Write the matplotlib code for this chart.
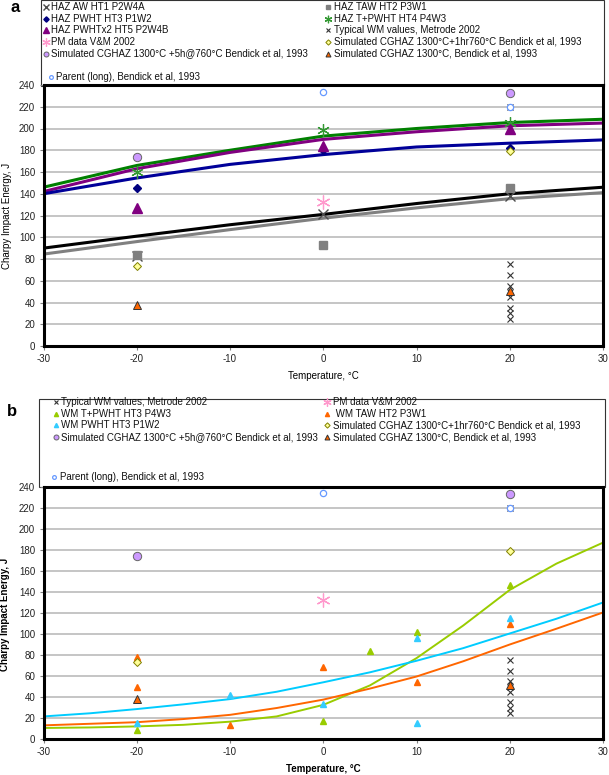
import matplotlib.pyplot as plt
from matplotlib.lines import Line2D
from matplotlib.patches import Rectangle

plt.rcParams['font.family'] = ['Liberation Sans', 'DejaVu Sans']
plt.rcParams['axes.unicode_minus'] = False

W, H = 609, 775

# ---------------- panel a data (temperature degC, Charpy energy J) ----------------
aw_t = [-20, 0, 20]
aw_e = [83, 121, 138]
taw_t = [-20, 0, 20]
taw_e = [84, 93, 145]
pwht_t = [-20, 0, 20]
pwht_e = [145, 180, 182]
tpwht_t = [-20, 0, 20]
tpwht_e = [160, 199, 205]
pwht2_t = [-20, 0, 20]
pwht2_e = [127, 184, 200]

# fitted trend lines, panel a
fit_t_a = [-30, -20, -10, 0, 10, 20, 30]
fit_tpwht_a = [146, 166, 180, 193, 200, 205.5, 208.5]
fit_pwht2_a = [142, 163, 178, 190, 197, 202.5, 205]
fit_pwht_a = [140, 154.5, 167, 176, 183, 186.5, 189.5]
fit_aw_a = [90, 101, 111.5, 121, 131, 140, 146]
fit_taw_a = [84.5, 96, 107, 117.5, 127, 135.5, 141]

# ---------------- panel b data ----------------
wm_tpwht_t = [-20, 0, 5, 10, 20]
wm_tpwht_e = [9, 17, 84, 101.5, 147]
wm_taw_t = [-20, -20, -10, 0, 10, 20]
wm_taw_e = [78.5, 50, 13, 69, 54, 110]
wm_pwht_t = [-20, -10, 0, 10, 10, 20]
wm_pwht_e = [15, 41.5, 33, 96.5, 15, 115.5]

fit_t_b = [-30, -25, -20, -15, -10, -5, 0, 5, 10, 15, 20, 25, 30]
fit_tpwht_b = [10.5, 11, 12, 13.5, 16.5, 21.5, 32.5, 51, 77, 108, 142, 167, 187]
fit_pwht_b = [21.5, 24.5, 28.5, 33, 38, 45, 54, 63.5, 74.5, 86.5, 100.5, 114.5, 130]
fit_taw_b = [13, 14.5, 16, 19, 23, 29.5, 37.5, 48, 59.5, 74, 90, 105, 120.5]

# ---------------- shared literature data ----------------
typ_t = [20, 20, 20, 20, 20, 20, 20, 20, 20]
typ_e = [220, 75, 65, 55, 50, 45, 35, 30, 25]
pm_t = [0]
pm_e = [132]
sim1hr_t = [-20, 20]
sim1hr_e = [73.5, 179]
sim5h_t = [-20, 20]
sim5h_e = [174, 233]
sim1300_t = [-20, 20]
sim1300_e = [38, 51]
parent_t = [0, 20]
parent_e = [234, 220]

# marker styles
ST = {
    'aw': dict(marker='x', ms=6.5, color='#4d4d4d', mew=1.0),
    'taw': dict(marker='s', ms=6, color='#808080', mec='#808080'),
    'pwht': dict(marker='D', ms=4.5, color='#000080', mec='#000080'),
    'tpwht': dict(marker=(6, 2, 0), ms=9, color='#339933', mew=0.9),
    'pwht2': dict(marker='^', ms=7, color='#800080', mec='#800080'),
    'typ': dict(marker='x', ms=5, color='#333333', mew=0.8),
    'pm': dict(marker=(6, 2, 0), ms=10, color='#ff99cc', mew=0.9),
    'sim1hr': dict(marker='D', ms=4.5, mfc='#ffff99', mec='#808000', mew=0.7),
    'sim5h': dict(marker='o', ms=6, mfc='#cc99ff', mec='#666666', mew=0.7),
    'sim1300': dict(marker='^', ms=6, mfc='#ff6600', mec='#333333', mew=0.7),
    'parent': dict(marker='o', ms=4.5, mfc='white', mec='#6699ff', mew=0.9),
    'wm_tpwht': dict(marker='^', ms=5, color='#99cc00', mec='#99cc00'),
    'wm_taw': dict(marker='^', ms=5, color='#ff6600', mec='#ff6600'),
    'wm_pwht': dict(marker='^', ms=5, color='#33ccff', mec='#33ccff'),
}


def px(x, y):
    return x / W, 1 - y / H


def style_axes(ax, bold):
    ax.set_xlim(-30, 30)
    ax.set_ylim(0, 240)
    ax.set_xticks(range(-30, 31, 10))
    ax.set_yticks(range(0, 241, 20))
    ax.grid(axis='y', color='#c0c0c0', lw=1.3)
    ax.set_axisbelow(True)
    for s in ax.spines.values():
        s.set_linewidth(2.2)
    ax.tick_params(direction='out', length=3, width=0.8, color='#808080',
                   labelsize=7, labelcolor='#222222', pad=3)
    w = 'bold' if bold else 'normal'
    ax.set_xlabel('Temperature, °C', fontsize=7, fontweight=w, labelpad=5)


def pts(ax, t, e, key):
    ax.plot(t, e, linestyle='none', zorder=3, **ST[key])


def key(fig, mx, tx, y, label, k):
    st = dict(ST[k])
    st['ms'] = st['ms'] * 0.6
    fig.add_artist(Line2D([mx / W], [1 - y / H], transform=fig.transFigure,
                          linestyle='none', **st))
    fig.text(tx / W, 1 - y / H, label, fontsize=7, va='center', ha='left', color='#111111')


fig = plt.figure(figsize=(W / 100, H / 100), dpi=100)

# ================= panel a =================
ax1 = fig.add_axes([43.5 / W, 1 - 346 / H, 559.5 / W, 261 / H])
style_axes(ax1, False)
ax1.plot(fit_t_a, fit_tpwht_a, color='#008000', lw=2.2, zorder=2)
ax1.plot(fit_t_a, fit_pwht2_a, color='#800080', lw=2.2, zorder=2)
ax1.plot(fit_t_a, fit_pwht_a, color='#000099', lw=2.2, zorder=2)
ax1.plot(fit_t_a, fit_aw_a, color='black', lw=2.2, zorder=2)
ax1.plot(fit_t_a, fit_taw_a, color='#808080', lw=2.2, zorder=2)
pts(ax1, aw_t, aw_e, 'aw')
pts(ax1, taw_t, taw_e, 'taw')
pts(ax1, pwht_t, pwht_e, 'pwht')
pts(ax1, tpwht_t, tpwht_e, 'tpwht')
pts(ax1, pwht2_t, pwht2_e, 'pwht2')
pts(ax1, typ_t, typ_e, 'typ')
pts(ax1, pm_t, pm_e, 'pm')
pts(ax1, sim1hr_t, sim1hr_e, 'sim1hr')
pts(ax1, sim5h_t, sim5h_e, 'sim5h')
pts(ax1, sim1300_t, sim1300_e, 'sim1300')
pts(ax1, parent_t, parent_e, 'parent')
fig.text(0.011, 1 - 216 / H, 'Charpy Impact Energy, J', rotation=90, fontsize=7,
         va='center', ha='center')

fig.add_artist(Rectangle(px(41, 86), 563 / W, 85.5 / H, transform=fig.transFigure,
                         fill=False, ec='#333333', lw=0.8, zorder=0))
rows = [6.7, 18.5, 30.2, 42, 53.5]
col1 = [('HAZ AW HT1 P2W4A', 'aw'), ('HAZ PWHT HT3 P1W2', 'pwht'),
        ('HAZ PWHTx2 HT5 P2W4B', 'pwht2'), ('PM data V&M 2002', 'pm'),
        ('Simulated CGHAZ 1300°C +5h@760°C Bendick et al, 1993', 'sim5h')]
col2 = [('HAZ TAW HT2 P3W1', 'taw'), ('HAZ T+PWHT HT4 P4W3', 'tpwht'),
        ('Typical WM values, Metrode 2002', 'typ'),
        ('Simulated CGHAZ 1300°C+1hr760°C Bendick et al, 1993', 'sim1hr'),
        ('Simulated CGHAZ 1300°C, Bendick et al, 1993', 'sim1300')]
for y, (lab, k) in zip(rows, col1):
    key(fig, 45.5, 51.5, y, lab, k)
for y, (lab, k) in zip(rows, col2):
    key(fig, 328, 334, y, lab, k)
key(fig, 50.5, 56, 77, 'Parent (long), Bendick et al, 1993', 'parent')
fig.text(15 / W, 1 - 7 / H, 'a', fontsize=12, fontweight='bold', ha='center', va='center')

# ================= panel b =================
ax2 = fig.add_axes([43.5 / W, 1 - 739 / H, 559.5 / W, 252 / H])
style_axes(ax2, True)
ax2.plot(fit_t_b, fit_tpwht_b, color='#99cc00', lw=1.4, zorder=2)
ax2.plot(fit_t_b, fit_pwht_b, color='#00ccff', lw=1.4, zorder=2)
ax2.plot(fit_t_b, fit_taw_b, color='#ff6600', lw=1.4, zorder=2)
pts(ax2, typ_t, typ_e, 'typ')
pts(ax2, pm_t, pm_e, 'pm')
pts(ax2, wm_tpwht_t, wm_tpwht_e, 'wm_tpwht')
pts(ax2, wm_taw_t, wm_taw_e, 'wm_taw')
pts(ax2, wm_pwht_t, wm_pwht_e, 'wm_pwht')
pts(ax2, sim1hr_t, sim1hr_e, 'sim1hr')
pts(ax2, sim5h_t, sim5h_e, 'sim5h')
pts(ax2, sim1300_t, sim1300_e, 'sim1300')
pts(ax2, parent_t, parent_e, 'parent')
fig.text(0.009, 1 - 614 / H, 'Charpy Impact Energy, J', rotation=90, fontsize=7,
         fontweight='bold', va='center', ha='center')

fig.add_artist(Rectangle(px(39, 487), 566 / W, 88 / H, transform=fig.transFigure,
                         fill=False, ec='#333333', lw=0.8, zorder=0))
rows_b = [401.7, 414, 425.3, 437]
col1_b = [('Typical WM values, Metrode 2002', 'typ'), ('WM T+PWHT HT3 P4W3', 'wm_tpwht'),
          ('WM PWHT HT3 P1W2', 'wm_pwht'),
          ('Simulated CGHAZ 1300°C +5h@760°C Bendick et al, 1993', 'sim5h')]
col2_b = [('PM data V&M 2002', 'pm'), (' WM TAW HT2 P3W1', 'wm_taw'),
          ('Simulated CGHAZ 1300°C+1hr760°C Bendick et al, 1993', 'sim1hr'),
          ('Simulated CGHAZ 1300°C, Bendick et al, 1993', 'sim1300')]
for y, (lab, k) in zip(rows_b, col1_b):
    key(fig, 55.5, 61, y, lab, k)
for y, (lab, k) in zip(rows_b, col2_b):
    key(fig, 327, 333, y, lab, k)
key(fig, 54, 59.5, 477, 'Parent (long), Bendick et al, 1993', 'parent')
fig.text(12 / W, 1 - 412 / H, 'b', fontsize=12, fontweight='bold', ha='center', va='center')

fig.savefig('out.png', dpi=100)
